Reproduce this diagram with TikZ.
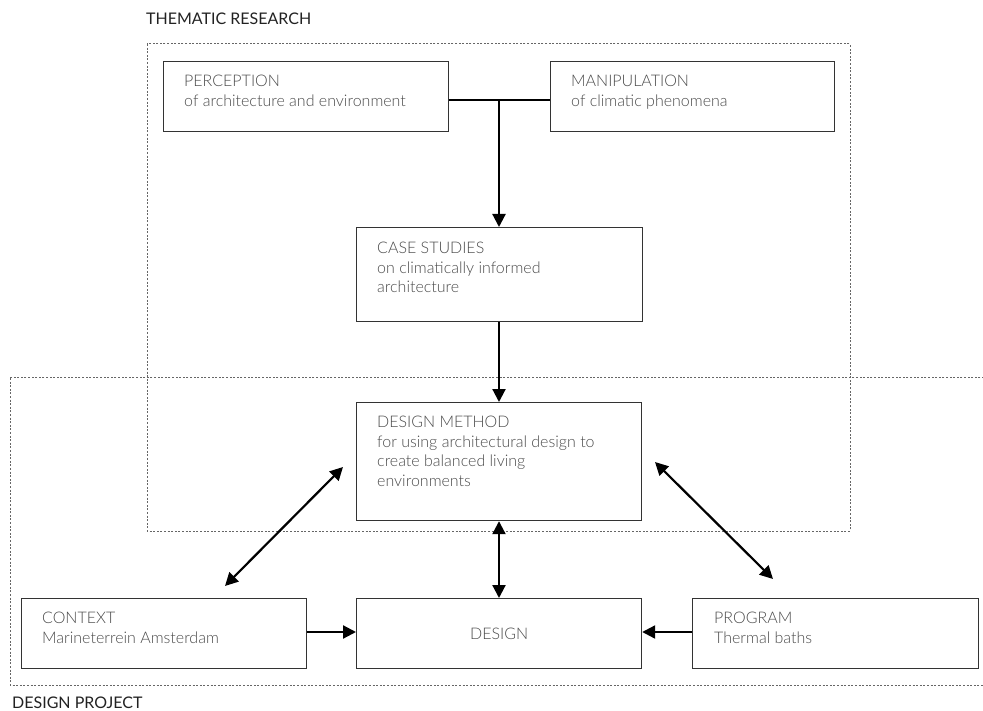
\documentclass[tikz,border=0pt]{standalone}
\usepackage{fontspec}
\setmainfont{Lato}
\newfontfamily\lightf{Lato Light}
\usetikzlibrary{arrows.meta,calc}
\definecolor{boxline}{HTML}{333333}
\definecolor{boxtext}{HTML}{4A4A4A}
\definecolor{dotline}{HTML}{666666}
\definecolor{titletext}{HTML}{222222}
\tikzset{
  box/.style={draw=boxline, line width=1.2pt, minimum width=#1, anchor=north west, inner sep=0pt, minimum height=70pt},
  boxtxt/.style={anchor=north west, inner sep=0pt, align=left, text=boxtext, font=\lightf\fontsize{16}{19.6}\selectfont},
  frame/.style={draw=dotline, line width=1pt, dash pattern=on 2pt off 1.6pt},
  arr/.style={draw=black, line width=2.2pt, -{Triangle[length=13pt,width=13pt]}},
  darr/.style={draw=black, line width=2.2pt, {Triangle[length=13pt,width=13pt]}-{Triangle[length=13pt,width=13pt]}},
  plain/.style={draw=black, line width=2.2pt},
  title/.style={anchor=north west, inner sep=0pt, text=titletext, font=\fontsize{16}{19}\selectfont}
}
\begin{document}
\begin{tikzpicture}[x=1pt,y=-1pt]
\useasboundingbox (0,0) rectangle (983,711);
% frames
\draw[frame] (147,44) rectangle (850,531);
\draw[frame] (10,378) rectangle (1000,685);
\node[title] (t1) at (146,13) {THEMATIC RESEARCH};
\node[title] (t2) at (12,697) {DESIGN PROJECT};
% boxes
\node[box=285pt] (perc) at (163,61) {};
\node[boxtxt] (percT) at (184,75) {PERCEPTION\\of architecture and environment};
\node[box=284pt] (manip) at (550,61) {};
\node[boxtxt] (manipT) at (571,75) {MANIPULATION\\of climatic phenomena};
\node[box=286pt, minimum height=94pt] (case) at (356,227) {};
\node[boxtxt] (caseT) at (377,242) {CASE STUDIES\\on climatically informed\\architecture};
\node[box=285pt, minimum height=118pt] (dm) at (356,402) {};
\node[boxtxt] (dmT) at (377,416) {DESIGN METHOD\\for using architectural design to\\create balanced living\\environments};
\node[box=285pt] (ctx) at (21,598) {};
\node[boxtxt] (ctxT) at (42,612) {CONTEXT\\Marineterrein Amsterdam};
\node[box=285pt, text=boxtext, font=\lightf\fontsize{16}{19.6}\selectfont] (des) at (356,598) {DESIGN};
\node[box=286pt] (prog) at (692,598) {};
\node[boxtxt] (progT) at (714,612) {PROGRAM\\Thermal baths};
% connectors
\coordinate (jn) at (499,100);
\draw[plain] (perc.east |- jn) -- (manip.west |- jn);
\draw[arr] (jn) -- (case.north -| jn);
\draw[arr] (case.south -| jn) -- (dm.north -| jn);
\draw[darr] (dm.south -| jn) -- (des.north -| jn);
\draw[arr] (ctx.east |- 0,632) -- (des.west |- 0,632);
\draw[arr] (prog.west |- 0,632) -- (des.east |- 0,632);
\coordinate (l1) at (343,467);
\coordinate (l2) at (225,586);
\coordinate (r1) at (655,462);
\coordinate (r2) at (773,579);
\draw[darr] (l1) -- (l2);
\draw[darr] (r1) -- (r2);
\end{tikzpicture}
\end{document}
